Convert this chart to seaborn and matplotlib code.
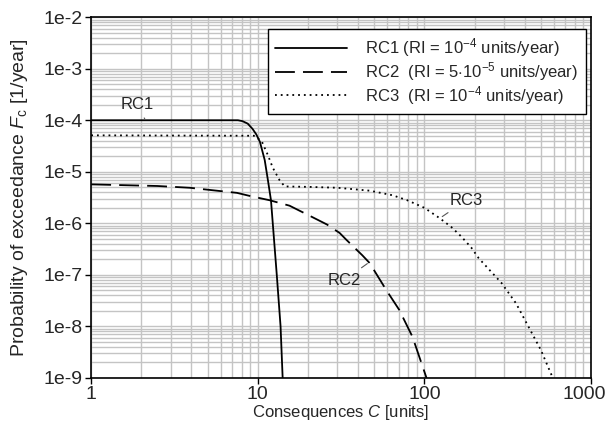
"""Exceedance curves for three risk cases on log-log axes."""

import matplotlib

matplotlib.use("Agg")

import matplotlib.pyplot as plt  # noqa: E402
import matplotlib.ticker as mticker  # noqa: E402
import matplotlib.transforms as mtransforms  # noqa: E402
import pandas as pd  # noqa: E402
import seaborn as sns  # noqa: E402

# Values
c_rc1 = [1, 7.6, 8.1, 8.7, 9.3, 9.8, 10.3, 11.0, 11.5, 12.0, 12.3, 13.0,
         13.7, 14.1]
f_rc1 = [1e-4, 1e-4, 9.6e-5, 8.6e-5, 6.8e-5, 5.3e-5, 3.8e-5, 1.7e-5, 6.9e-6,
         2.8e-6, 1e-6, 1e-7, 1e-8, 1e-9]

c_rc2 = [1, 2.5, 3.9, 7.5, 8.95, 11.8, 15.5, 20.5, 26, 31, 34, 42.4, 46.9,
         59, 70.6, 84.8, 103]
f_rc2 = [5.7e-6, 5.3e-6, 4.9e-6, 3.9e-6, 3.4e-6, 2.8e-6, 2.2e-6, 1.4e-6,
         9.5e-7, 6.5e-7, 4.8e-7, 2.4e-7, 1.7e-7, 5.1e-8, 2.1e-8, 6.3e-9, 1e-9]

c_rc3 = [1, 9.6, 10.6, 11.5, 12.3, 13.5, 14.5, 20, 30, 47, 64.5, 79, 100,
         123, 145, 166, 191, 212, 243, 290, 355, 500, 590]
f_rc3 = [5.1e-5, 5.0e-5, 3.8e-5, 2.1e-5, 1.2e-5, 6.9e-6, 5.2e-6, 5.1e-6,
         4.9e-6, 4.3e-6, 3.5e-6, 2.8e-6, 2.0e-6, 1.27e-6, 8.5e-7, 5.6e-7,
         3.4e-7, 2.1e-7, 1.3e-7, 7.0e-8, 2.8e-8, 3.5e-9, 1e-9]

legend_labels = [
    "RC1 (RI = 10$^{-4}$ units/year)",
    "RC2  (RI = 5$\\cdot$10$^{-5}$ units/year)",
    "RC3  (RI = 10$^{-4}$ units/year)",
]

x_ticks = [1, 10, 100, 1000]
x_tick_labels = ["1", "10", "100", "1000"]
y_ticks = [1e-9, 1e-8, 1e-7, 1e-6, 1e-5, 1e-4, 1e-3, 1e-2]
y_tick_labels = ["1e-9", "1e-8", "1e-7", "1e-6", "1e-5", "1e-4", "1e-3", "1e-2"]

sns.set_theme(style="ticks")
plt.rcParams["font.family"] = ["Liberation Sans", "DejaVu Sans"]
plt.rcParams["mathtext.fontset"] = "custom"
plt.rcParams["mathtext.rm"] = "Liberation Sans"
plt.rcParams["mathtext.it"] = "Liberation Sans:italic"

fig = plt.figure(figsize=(6.08, 4.4), dpi=100)
ax = fig.add_axes([0.150, 0.141, 0.822, 0.820])

curves = [
    (c_rc1, f_rc1, "-"),
    (c_rc2, f_rc2, (0, (11, 4.5))),
    (c_rc3, f_rc3, (0, (1, 2.2))),
]
for (cx, fy, ls), label in zip(curves, legend_labels):
    df = pd.DataFrame({"C": cx, "F": fy})
    sns.lineplot(data=df, x="C", y="F", ax=ax, color="black", lw=1.3,
                 linestyle=ls, estimator=None, sort=False, label=label)

ax.set_xscale("log")
ax.set_yscale("log")
ax.set_xlim(1, 1000)
ax.set_ylim(1e-9, 1e-2)

ax.set_xticks(x_ticks)
ax.set_xticklabels(x_tick_labels)
ax.set_yticks(y_ticks)
ax.set_yticklabels(y_tick_labels)
ax.xaxis.set_minor_locator(mticker.LogLocator(base=10, subs=range(2, 10)))
ax.yaxis.set_minor_locator(mticker.LogLocator(base=10, subs=range(2, 10),
                                              numticks=20))
ax.xaxis.set_minor_formatter(mticker.NullFormatter())
ax.yaxis.set_minor_formatter(mticker.NullFormatter())
ax.tick_params(which="major", direction="out", length=4.5, width=1,
               color="black", labelsize=14, pad=1.5)
ax.tick_params(which="minor", length=0)

# keep the last x label inside the figure, as in the reference
last = ax.get_xticklabels()[-1]
last.set_transform(last.get_transform()
                   + mtransforms.ScaledTranslation(-7 / 100, 0,
                                                   fig.dpi_scale_trans))

ax.grid(True, which="both", color="#c4c4c4", lw=1)
ax.set_axisbelow(True)
for sp in ax.spines.values():
    sp.set_visible(True)
    sp.set_color("black")
    sp.set_linewidth(1.2)

ax.set_xlabel("Consequences $C$ [units]", fontsize=12, labelpad=0)
ax.set_ylabel("Probability of exceedance $F_{\\mathrm{c}}$ [1/year]",
              fontsize=14, labelpad=10)

leg = ax.legend(loc="upper right", bbox_to_anchor=(0.990, 0.967),
                borderaxespad=0, fontsize=12, frameon=True, fancybox=False,
                framealpha=1, edgecolor="black", handlelength=4.3,
                handletextpad=1.1, labelspacing=0.05, borderpad=0.45)
leg.get_frame().set_linewidth(1.0)

# Curve labels with leader lines
lead = {"arrowstyle": "-", "color": "#555555", "lw": 0.8}
ax.annotate("RC1", xy=(2.1, 1.05e-4), xytext=(1.88, 2.0e-4), fontsize=12,
            ha="center", va="center", arrowprops=lead)
ax.annotate("RC2", xy=(46.9, 1.78e-7), xytext=(33, 7.9e-8), fontsize=12,
            ha="center", va="center", arrowprops=lead)
ax.annotate("RC3", xy=(124, 1.26e-6), xytext=(178, 2.8e-6), fontsize=12,
            ha="center", va="center", arrowprops=lead)

fig.savefig("out.png", dpi=100)
plt.close(fig)
